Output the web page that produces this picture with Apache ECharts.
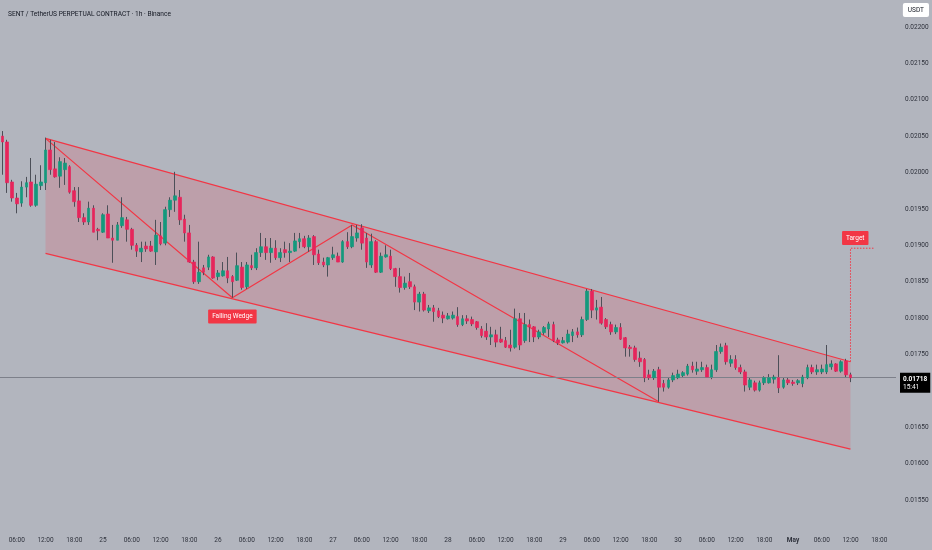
<!DOCTYPE html>
<html><head><meta charset="utf-8">
<script src="https://cdn.jsdelivr.net/npm/echarts@6/dist/echarts.min.js"></script>
<style>html,body{margin:0;padding:0;background:#b2b5be}#c{width:932px;height:550px}</style>
</head><body><div id="c"></div>
<script>
// time slots: hourly, first slot = 24 Apr 03:00
const startDay = 24, startHour = 3, slotCount = 187;
const slots = [];
for (let i = 0; i < slotCount; i++) slots.push('t' + (startHour + i));

const opens = [
0.02050,0.02042,0.01987,0.01965,0.01958,0.01980,0.01987,0.01955,0.01982,0.01986,
0.02031,0.02005,0.01995,0.02004,0.02008,0.01975,0.01961,0.01938,0.01932,0.01951,
0.01922,0.01918,0.01943,0.01910,0.01907,0.01927,0.01935,0.01922,0.01900,0.01891,
0.01899,0.01899,0.01891,0.01913,0.01903,0.01949,0.01962,0.01966,0.01936,0.01917,
0.01877,0.01850,0.01869,0.01870,0.01884,0.01857,0.01858,0.01865,0.01857,0.01852,
0.01870,0.01843,0.01872,0.01869,0.01890,0.01898,0.01890,0.01896,0.01883,0.01894,
0.01890,0.01892,0.01905,0.01909,0.01898,0.01912,0.01888,0.01877,0.01873,0.01883,
0.01885,0.01877,0.01905,0.01898,0.01910,0.01924,0.01910,0.01873,0.01905,0.01863,
0.01884,0.01885,0.01868,0.01857,0.01842,0.01850,0.01843,0.01822,0.01833,0.01810,
0.01814,0.01810,0.01804,0.01799,0.01800,0.01802,0.01791,0.01799,0.01798,0.01795,
0.01785,0.01782,0.01774,0.01777,0.01771,0.01769,0.01763,0.01760,0.01799,0.01769,
0.01791,0.01788,0.01774,0.01780,0.01785,0.01791,0.01770,0.01766,0.01767,0.01776,
0.01781,0.01777,0.01798,0.01837,0.01811,0.01815,0.01798,0.01791,0.01781,0.01787,
0.01773,0.01760,0.01759,0.01745,0.01743,0.01722,0.01718,0.01729,0.01710,0.01705,
0.01715,0.01718,0.01721,0.01723,0.01734,0.01727,0.01729,0.01732,0.01719,0.01729,
0.01754,0.01762,0.01738,0.01743,0.01732,0.01726,0.01705,0.01711,0.01701,0.01711,
0.01711,0.01716,0.01718,0.01705,0.01715,0.01712,0.01711,0.01710,0.01718,0.01732,
0.01726,0.01726,0.01726,0.01733,0.01737,0.01727,0.01741,0.01722];
const closes = [
0.02042,0.01986,0.01965,0.01957,0.01980,0.01986,0.01955,0.01984,0.01987,0.02031,
0.02004,0.01994,0.02015,0.02013,0.01973,0.01960,0.01938,0.01932,0.01951,0.01918,
0.01920,0.01942,0.01910,0.01907,0.01928,0.01938,0.01922,0.01900,0.01892,0.01896,
0.01895,0.01892,0.01914,0.01902,0.01949,0.01962,0.01968,0.01935,0.01917,0.01877,
0.01850,0.01863,0.01863,0.01884,0.01855,0.01862,0.01865,0.01855,0.01850,0.01872,
0.01842,0.01873,0.01869,0.01890,0.01898,0.01890,0.01896,0.01883,0.01890,0.01890,
0.01892,0.01906,0.01909,0.01898,0.01910,0.01887,0.01876,0.01873,0.01883,0.01887,
0.01877,0.01905,0.01898,0.01912,0.01917,0.01903,0.01877,0.01905,0.01863,0.01885,
0.01887,0.01868,0.01857,0.01842,0.01848,0.01843,0.01822,0.01833,0.01811,0.01814,
0.01809,0.01802,0.01800,0.01803,0.01804,0.01791,0.01799,0.01796,0.01792,0.01787,
0.01776,0.01774,0.01777,0.01767,0.01767,0.01760,0.01759,0.01799,0.01763,0.01791,
0.01788,0.01774,0.01781,0.01787,0.01792,0.01769,0.01766,0.01769,0.01778,0.01781,
0.01777,0.01798,0.01837,0.01811,0.01814,0.01793,0.01788,0.01781,0.01787,0.01771,
0.01759,0.01758,0.01743,0.01740,0.01718,0.01718,0.01727,0.01705,0.01705,0.01715,
0.01721,0.01723,0.01725,0.01734,0.01729,0.01730,0.01732,0.01719,0.01729,0.01754,
0.01760,0.01740,0.01743,0.01732,0.01726,0.01708,0.01715,0.01701,0.01711,0.01718,
0.01718,0.01719,0.01704,0.01715,0.01711,0.01710,0.01714,0.01719,0.01732,0.01726,
0.01729,0.01730,0.01736,0.01737,0.01727,0.01740,0.01722,0.01718];
const lows = [
0.01997,0.01972,0.01960,0.01944,0.01953,0.01966,0.01953,0.01953,0.01976,0.01976,
0.01997,0.01993,0.01979,0.01983,0.01971,0.01953,0.01932,0.01928,0.01928,0.01918,
0.01907,0.01917,0.01910,0.01876,0.01907,0.01924,0.01905,0.01894,0.01884,0.01877,
0.01891,0.01891,0.01873,0.01900,0.01900,0.01939,0.01946,0.01928,0.01905,0.01876,
0.01847,0.01847,0.01859,0.01866,0.01854,0.01852,0.01857,0.01848,0.01828,0.01851,
0.01839,0.01840,0.01866,0.01866,0.01884,0.01880,0.01876,0.01880,0.01877,0.01883,
0.01877,0.01891,0.01896,0.01896,0.01891,0.01873,0.01873,0.01870,0.01857,0.01880,
0.01877,0.01876,0.01895,0.01896,0.01905,0.01894,0.01869,0.01869,0.01862,0.01862,
0.01883,0.01866,0.01843,0.01835,0.01839,0.01840,0.01811,0.01809,0.01809,0.01807,
0.01795,0.01800,0.01793,0.01798,0.01798,0.01788,0.01789,0.01792,0.01789,0.01784,
0.01773,0.01770,0.01763,0.01760,0.01766,0.01759,0.01754,0.01758,0.01756,0.01766,
0.01767,0.01767,0.01771,0.01777,0.01774,0.01767,0.01763,0.01765,0.01765,0.01767,
0.01773,0.01774,0.01796,0.01800,0.01798,0.01791,0.01785,0.01777,0.01778,0.01770,
0.01747,0.01747,0.01740,0.01733,0.01712,0.01715,0.01715,0.01685,0.01699,0.01703,
0.01712,0.01716,0.01719,0.01721,0.01725,0.01722,0.01726,0.01718,0.01716,0.01726,
0.01751,0.01736,0.01733,0.01729,0.01723,0.01699,0.01701,0.01699,0.01699,0.01708,
0.01710,0.01710,0.01697,0.01703,0.01708,0.01707,0.01708,0.01705,0.01716,0.01723,
0.01722,0.01723,0.01723,0.01729,0.01726,0.01725,0.01719,0.01712];
const highs = [
0.02057,0.02045,0.01990,0.01972,0.01988,0.01994,0.02020,0.01997,0.02010,0.02048,
0.02045,0.02042,0.02021,0.02020,0.02010,0.01980,0.01980,0.01944,0.01960,0.01955,
0.01924,0.01944,0.01955,0.01928,0.01932,0.01966,0.01939,0.01924,0.01903,0.01905,
0.01905,0.01906,0.01935,0.01932,0.01953,0.01966,0.02001,0.01976,0.01942,0.01928,
0.01880,0.01905,0.01873,0.01887,0.01885,0.01866,0.01877,0.01884,0.01859,0.01890,
0.01877,0.01877,0.01887,0.01896,0.01917,0.01910,0.01910,0.01907,0.01896,0.01905,
0.01903,0.01917,0.01917,0.01913,0.01914,0.01914,0.01894,0.01883,0.01884,0.01898,
0.01890,0.01907,0.01918,0.01928,0.01928,0.01929,0.01917,0.01916,0.01907,0.01890,
0.01900,0.01894,0.01869,0.01869,0.01857,0.01862,0.01846,0.01836,0.01836,0.01818,
0.01818,0.01814,0.01809,0.01807,0.01809,0.01815,0.01804,0.01804,0.01802,0.01796,
0.01789,0.01793,0.01788,0.01784,0.01788,0.01774,0.01784,0.01813,0.01807,0.01807,
0.01798,0.01789,0.01784,0.01789,0.01795,0.01795,0.01773,0.01774,0.01784,0.01785,
0.01787,0.01802,0.01840,0.01840,0.01825,0.01829,0.01800,0.01795,0.01791,0.01793,
0.01774,0.01763,0.01762,0.01754,0.01745,0.01729,0.01730,0.01733,0.01715,0.01719,
0.01725,0.01729,0.01727,0.01737,0.01740,0.01740,0.01740,0.01736,0.01736,0.01763,
0.01765,0.01766,0.01749,0.01749,0.01736,0.01729,0.01718,0.01714,0.01714,0.01720,
0.01723,0.01722,0.01749,0.01719,0.01718,0.01715,0.01716,0.01722,0.01736,0.01736,
0.01736,0.01736,0.01763,0.01742,0.01738,0.01742,0.01744,0.01725];

// drawings: [slot index, price]
const channelUpper = [[9, 0.02047], [177, 0.01740]];
const channelLower = [[9, 0.01889], [177, 0.01620]];
const wedgeZigzag = [[9, 0.02047], [48, 0.01828], [73, 0.01928], [137, 0.01685]];
const targetPath = [[177, 0.01740], [177, 0.01896], [182, 0.01896]];
const noteLabels = ['Falling Wedge', 'Target'];
const notePoints = [[48, 0.01802], [178, 0.01910]];
const lastPrice = closes[closes.length - 1];
const countdown = '15:41';

const RED = '#f23645', UP = '#14997d', DOWN = '#e6255b', WICK = '#4c4f58', TXT = '#2f323c';
const FONT = 'Roboto, sans-serif';

const wickData = opens.map((o, i) => [o, closes[i], lows[i], highs[i]]);
const bodyData = opens.map((o, i) => [o, closes[i], Math.min(o, closes[i]), Math.max(o, closes[i])]);

function slotLabel(v) {
  const t = parseInt(v.slice(1), 10);
  const d = startDay + Math.floor(t / 24), h = t % 24;
  if (h === 0) return d === 31 ? '{b|May}' : String(d);
  return String(h).padStart(2, '0') + ':00';
}

const chart = echarts.init(document.getElementById('c'));
const lineStyleRed = { color: RED, width: 1.2 };
chart.setOption({
  animation: false,
  backgroundColor: '#b2b5be',
  textStyle: { fontFamily: FONT },
  title: {
    text: 'SENT / TetherUS PERPETUAL CONTRACT · 1h · Binance',
    left: 3, top: 6,
    textStyle: { fontSize: 6.6, fontWeight: 'normal', color: '#131722', fontFamily: FONT }
  },
  graphic: [{
    type: 'text', right: 3, top: 3, z: 100,
    style: { text: 'USDT', fontSize: 6.5, fontFamily: FONT, fill: '#131722', backgroundColor: '#ffffff', padding: [4, 5, 3, 5], borderRadius: 2 }
  }],
  grid: { left: 0, right: 36, top: 27, bottom: 50, outerBoundsMode: 'none' },
  xAxis: {
    type: 'category', data: slots, boundaryGap: true,
    axisLine: { show: false }, axisTick: { show: false }, splitLine: { show: false },
    axisLabel: {
      interval: (i) => (startHour + i) % 6 === 0,
      formatter: slotLabel, fontSize: 6.5, color: TXT, margin: 37, fontFamily: FONT,
      rich: { b: { fontSize: 6.5, fontWeight: 'bold', color: TXT, fontFamily: FONT } }
    }
  },
  yAxis: {
    type: 'value', position: 'right', min: 0.0155, max: 0.022, interval: 0.0005, scale: true,
    axisLine: { show: false }, axisTick: { show: false }, splitLine: { show: false },
    axisLabel: { formatter: (v) => v.toFixed(5), fontSize: 6.5, color: TXT, margin: 9, fontFamily: FONT }
  },
  series: [
    {
      type: 'custom', name: 'channelFill', silent: true, z: 1,
      data: [channelUpper[0]],
      renderItem: (params, api) => {
        const pts = [channelUpper[0], channelUpper[1], channelLower[1], channelLower[0]].map(p => api.coord(p));
        return { type: 'polygon', shape: { points: pts }, style: { fill: 'rgba(242,54,69,0.17)' } };
      }
    },
    {
      type: 'line', name: 'priceLine', data: [[0, lastPrice], [slotCount - 1, lastPrice]],
      symbol: 'none', silent: true, lineStyle: { width: 0, opacity: 0 }, z: 2,
      markLine: {
        symbol: 'none', silent: true, precision: 5, label: { show: false },
        lineStyle: { color: '#7d808a', width: 1, type: 'solid' },
        data: [{ yAxis: lastPrice }]
      }
    },
    { type: 'line', name: 'upper', data: channelUpper, symbol: 'none', silent: true, lineStyle: lineStyleRed, z: 3 },
    { type: 'line', name: 'lower', data: channelLower, symbol: 'none', silent: true, lineStyle: lineStyleRed, z: 3 },
    { type: 'line', name: 'zigzag', data: wedgeZigzag, symbol: 'none', silent: true, lineStyle: lineStyleRed, z: 3 },
    { type: 'line', name: 'target', data: targetPath, symbol: 'none', silent: true, lineStyle: { color: RED, width: 1, type: [1.5, 1.5] }, z: 3 },
    {
      type: 'candlestick', name: 'wick', data: wickData, barWidth: 1, silent: true, z: 4,
      itemStyle: { color: WICK, color0: WICK, borderColor: WICK, borderColor0: WICK, borderWidth: 1 }
    },
    {
      type: 'candlestick', name: 'body', data: bodyData, barWidth: 3.2, silent: true, z: 5,
      itemStyle: { color: UP, color0: DOWN, borderColor: UP, borderColor0: DOWN, borderWidth: 0.7 }
    },
    {
      type: 'custom', name: 'notes', silent: true, z: 10, clip: false,
      data: notePoints,
      renderItem: (params, api) => {
        const p = api.coord([api.value(0), api.value(1)]);
        return {
          type: 'text', x: p[0], y: p[1],
          style: {
            text: noteLabels[params.dataIndex], fill: '#ffffff', fontSize: 6.5, fontFamily: FONT,
            backgroundColor: RED, padding: [4, 4, 3, 4], borderRadius: 1, align: 'center', verticalAlign: 'middle'
          }
        };
      }
    },
    {
      type: 'custom', name: 'priceTag', silent: true, z: 10, clip: false,
      data: [[slotCount - 1, lastPrice]],
      renderItem: (params, api) => {
        const p = api.coord([api.value(0), api.value(1)]);
        const cs = params.coordSys;
        return {
          type: 'text', x: cs.x + cs.width + 4, y: p[1] - 5,
          style: {
            text: '{a|' + lastPrice.toFixed(5) + '}\n{b|' + countdown + '}',
            backgroundColor: '#000000', padding: [2, 3, 1, 3], align: 'left', verticalAlign: 'top',
            rich: {
              a: { fill: '#ffffff', fontSize: 6.5, fontWeight: 'bold', fontFamily: FONT, lineHeight: 8.5 },
              b: { fill: '#ffffff', fontSize: 6.5, fontFamily: FONT, lineHeight: 8.5 }
            }
          }
        };
      }
    }
  ]
});
</script>
</body></html>
